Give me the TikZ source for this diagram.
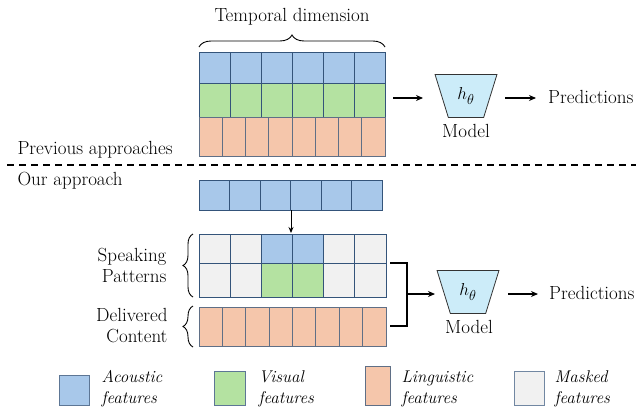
\documentclass[tikz,border=0pt]{standalone}
\usetikzlibrary{decorations.pathreplacing,arrows.meta,shapes.geometric}
\definecolor{acou}{HTML}{A8C8EA}
\definecolor{vis}{HTML}{B4E2A1}
\definecolor{ling}{HTML}{F5C6AB}
\definecolor{maskc}{HTML}{F1F1F1}
\definecolor{gridc}{HTML}{34547A}
\definecolor{lingline}{HTML}{5F6F86}
\definecolor{modelc}{HTML}{CCECF9}
\begin{document}
\begin{tikzpicture}[x=1pt,y=-1pt,font=\fontsize{19}{21}\selectfont,
  cellbox/.style={draw=gridc,line width=0.8pt},
  arr/.style={-{Stealth[length=7pt,width=6pt]},line width=1.1pt},
  modelbox/.style={trapezium,trapezium stretches=true,shape border rotate=180,
    trapezium left angle=68,trapezium right angle=68,minimum width=62pt,minimum height=43pt,
    draw=black!80,fill=modelc,line width=0.8pt,inner sep=0pt},
  legtext/.style={anchor=west,align=left,font=\fontsize{17}{21}\selectfont\itshape},
  predtext/.style={anchor=west,inner sep=0pt},
  brc/.style={decorate,decoration={brace,amplitude=#1},line width=0.9pt}]
\useasboundingbox (0,0) rectangle (636,410);
% ---------- previous approaches ----------
\foreach \i in {0,...,5}{
  \draw[cellbox,fill=acou] ({199+\i*31},52) rectangle ({199+(\i+1)*31},83);
  \draw[cellbox,fill=vis] ({199+\i*31},83) rectangle ({199+(\i+1)*31},117);
}
\foreach \i in {0,...,7}{
  \draw[cellbox,draw=lingline,fill=ling] ({199+\i*23.25},117) rectangle ({199+(\i+1)*23.25},156);
}
\draw[brc=12pt] (199,47) -- (385,47);
\node (temp) at (292,17) {Temporal dimension};
\coordinate (g1) at (393,98);
\coordinate (g1e) at (423,98);
\node[modelbox] (m1) at (466,96) {$h_\theta$};
\node (ml1) at (466,131) {Model};
\coordinate (m1o) at (505,98);
\coordinate (m1e) at (536,98);
\node[predtext] (p1) at (548,97) {Predictions};
\draw[arr] (g1) -- (g1e);
\draw[arr] (m1o) -- (m1e);
\node[anchor=west] (prev) at (14,150) {Previous approaches};
% ---------- separator ----------
\draw[line width=1.2pt,dash pattern=on 7pt off 5pt] (7,165) -- (636,165);
\node[anchor=west] (ours) at (14,181) {Our approach};
% ---------- our approach ----------
\foreach \i in {0,...,5}{
  \draw[cellbox,fill=acou] ({199+\i*30.5},180) rectangle ({199+(\i+1)*30.5},210);
}
\foreach \i/\ca/\cb in {0/maskc/maskc,1/maskc/maskc,2/acou/vis,3/acou/vis,4/maskc/maskc,5/maskc/maskc}{
  \draw[cellbox,fill=\ca] ({199+\i*31.17},234) rectangle ({199+(\i+1)*31.17},263);
  \draw[cellbox,fill=\cb] ({199+\i*31.17},263) rectangle ({199+(\i+1)*31.17},297);
}
\foreach \i in {0,...,7}{
  \draw[cellbox,draw=lingline,fill=ling] ({199+\i*23.375},307) rectangle ({199+(\i+1)*23.375},346);
}
\coordinate (a1) at (291,210);
\coordinate (a2) at (291,233);
\draw[-{Stealth[length=6pt,width=5pt]},line width=0.9pt] (a1) -- (a2);
\draw[brc=10pt] (193,297) -- (193,234);
\draw[brc=10pt] (193,347) -- (193,306);
\node[anchor=east,align=right] (sp) at (170,265) {Speaking\\Patterns};
\node[anchor=east,align=right] (dc) at (171,326) {Delivered\\Content};
\coordinate (b1) at (390,263);
\coordinate (b2) at (407,263);
\coordinate (b3) at (407,326);
\coordinate (b4) at (390,326);
\coordinate (b5) at (407,294);
\draw[line width=1.1pt] (b1) -- (b2) -- (b3) -- (b4);
\node[modelbox] (m2) at (468,292) {$h_\theta$};
\node (ml2) at (469,327) {Model};
\coordinate (m2i) at (435,294);
\coordinate (m2o) at (508,294);
\coordinate (m2e) at (538,294);
\node[predtext] (p2) at (549,293) {Predictions};
\draw[arr] (b5) -- (m2i);
\draw[arr] (m2o) -- (m2e);
% ---------- legend ----------
\draw[fill=acou,draw=gridc!80,line width=0.8pt] (59,375) rectangle (89,405);
\node[legtext] (l1) at (98,389) {Acoustic\\features};
\draw[fill=vis,draw=gridc!80,line width=0.8pt] (214,371) rectangle (245,405);
\node[legtext] (l2) at (255,389) {Visual\\features};
\draw[fill=ling,draw=lingline,line width=0.8pt] (365,366) rectangle (390,405);
\node[legtext] (l3) at (398,389) {Linguistic\\features};
\draw[fill=maskc,draw=gridc!70,line width=0.8pt] (514,371) rectangle (544,405);
\node[legtext] (l4) at (551,389) {Masked\\features};
\end{tikzpicture}
\end{document}
